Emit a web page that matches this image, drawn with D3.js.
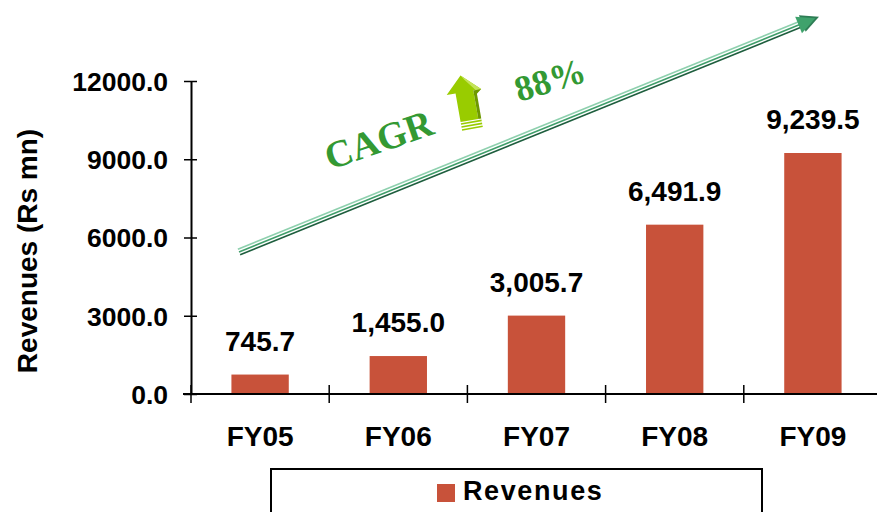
<!DOCTYPE html>
<html><head><meta charset="utf-8">
<script src="https://cdn.jsdelivr.net/npm/d3@7/dist/d3.min.js"></script>
<style>body{margin:0;background:#fff}svg{display:block}</style>
</head><body>
<svg id="c" width="877" height="512"></svg>
<script>
const categories = ["FY05","FY06","FY07","FY08","FY09"];
const revenues = [745.7, 1455.0, 3005.7, 6491.9, 9239.5];
const yTicks = [0, 3000, 6000, 9000, 12000];
const seriesName = "Revenues";
const yTitle = "Revenues (Rs mn)";
const cagrLabel = "CAGR";
const cagrValue = "88%";

const svg = d3.select("#c");
const font = "'Liberation Sans', Arial, sans-serif";
const barColor = "#C8523A";

const x = d3.scaleBand().domain(categories).range([191, 882]).padding(0);
const y = d3.scaleLinear().domain([0, 12000]).range([394, 81]);
const bw = x.bandwidth() * 0.415;

// bars
svg.selectAll("rect.bar").data(categories).join("rect")
  .attr("class","bar")
  .attr("x", c => x(c) + (x.bandwidth() - bw) / 2)
  .attr("y", (c,i) => y(revenues[i]))
  .attr("width", bw)
  .attr("height", (c,i) => y(0) - y(revenues[i]))
  .attr("fill", barColor);

// value labels
svg.selectAll("text.val").data(categories).join("text")
  .attr("class","val")
  .attr("x", c => x(c) + x.bandwidth()/2)
  .attr("y", (c,i) => y(revenues[i]) - 24)
  .attr("text-anchor","middle")
  .attr("font-family", font).attr("font-weight","bold").attr("font-size", 28)
  .attr("fill","#000")
  .text((c,i) => d3.format(",.1f")(revenues[i]));

// y axis
const gy = svg.append("g").attr("transform","translate(191,0)")
  .call(d3.axisLeft(y).tickValues(yTicks).tickFormat(d => d.toFixed(1)).tickSizeInner(7).tickSizeOuter(0).tickPadding(16));
gy.select(".domain").attr("stroke","#000").attr("stroke-width",2);
gy.selectAll(".tick line").attr("x2",-7).attr("x1",6).attr("stroke","#000").attr("stroke-width",1.5);
gy.selectAll(".tick text").attr("font-family",font).attr("font-weight","bold").attr("font-size",26.5).attr("fill","#000").attr("dy","0.35em").attr("x",-23);

// x axis
svg.append("line").attr("x1",183).attr("x2",877).attr("y1",y(0)).attr("y2",y(0)).attr("stroke","#000").attr("stroke-width",2);
svg.selectAll("line.xt").data(categories).join("line").attr("class","xt")
  .attr("x1", c => x(c)).attr("x2", c => x(c))
  .attr("y1", y(0) - 9).attr("y2", y(0) + 9)
  .attr("stroke","#000").attr("stroke-width",1.5);
svg.selectAll("text.cat").data(categories).join("text").attr("class","cat")
  .attr("x", c => x(c) + x.bandwidth()/2)
  .attr("y", 446)
  .attr("text-anchor","middle")
  .attr("font-family",font).attr("font-weight","bold").attr("font-size",28)
  .text(c => c);

// y title
svg.append("text")
  .attr("transform","translate(37,251) rotate(-90)")
  .attr("text-anchor","middle")
  .attr("font-family",font).attr("font-weight","bold").attr("font-size",28)
  .text(yTitle);

// legend
svg.append("rect").attr("x",271).attr("y",469).attr("width",491).attr("height",60)
  .attr("fill","none").attr("stroke","#000").attr("stroke-width",2);
svg.append("rect").attr("x",437).attr("y",484).attr("width",18).attr("height",18).attr("fill",barColor);
svg.append("text").attr("x",463).attr("y",500)
  .attr("font-family",font).attr("font-weight","bold").attr("font-size",27).attr("letter-spacing",1.6)
  .text(seriesName);

// CAGR arrow (triple line)
const a0 = [239, 252], a1 = [806, 22];
const ang = Math.atan2(a1[1]-a0[1], a1[0]-a0[0]);
const nx = -Math.sin(ang), ny = Math.cos(ang);
[[-3,"#8ED0AE"],[0,"#3F9E6A"],[3,"#1E5E3E"]].forEach(([o,col]) => {
  svg.append("line")
    .attr("x1", a0[0]+nx*o).attr("y1", a0[1]+ny*o)
    .attr("x2", a1[0]+nx*o).attr("y2", a1[1]+ny*o)
    .attr("stroke", col).attr("stroke-width", 1.6);
});
const deg = ang*180/Math.PI;
const head = svg.append("g").attr("transform",`translate(${a1[0]},${a1[1]}) rotate(${deg})`);
head.append("path").attr("d","M-4,-9 L14,0 L-4,9 Z").attr("fill","#2E7D55");
head.append("path").attr("d","M-8,-9 L10,0 L-8,9 Z").attr("fill","#3FA26C");

// CAGR text
svg.append("text")
  .attr("transform","translate(330,170) rotate(-19)")
  .attr("font-family","'Liberation Serif','Times New Roman',serif").attr("font-weight","bold").attr("font-size",38)
  .attr("fill","#339933").text(cagrLabel);
svg.append("text")
  .attr("transform","translate(519,102) rotate(-17)")
  .attr("font-family","'Liberation Serif','Times New Roman',serif").attr("font-weight","bold").attr("font-size",36)
  .attr("fill","#339933").text(cagrValue);

// up arrow icon
const ar = svg.append("g").attr("transform","translate(465,101) rotate(-10)");
ar.append("path").attr("d","M0,-26 L18,-9 L10,-9 L10,20 L-8,20 L-8,-9 L-17,-9 Z").attr("fill","#99CC00");
ar.append("path").attr("d","M0,-26 L18,-9 L14,-7 L3,-21 Z").attr("fill","#C4E35A");
ar.append("path").attr("d","M10,-9 L18,-9 L13,-5 L13,20 L10,20 Z").attr("fill","#6E9900");
[22,25,28].forEach(yy => ar.append("line").attr("x1",-8).attr("x2",13).attr("y1",yy).attr("y2",yy).attr("stroke","#99CC00").attr("stroke-width",1.6));
</script>
</body></html>
